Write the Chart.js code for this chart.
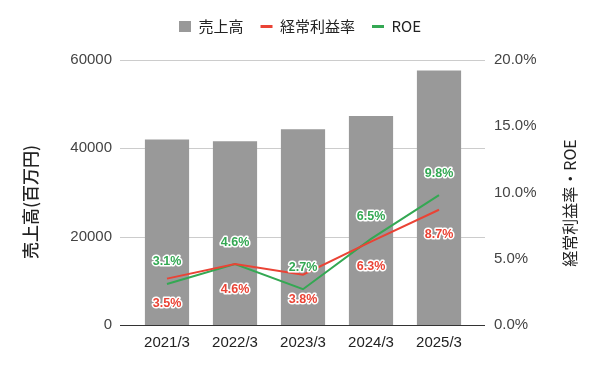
<!DOCTYPE html>
<html lang="ja">
<head>
  <meta charset="UTF-8" />
  <title>売上高・経常利益率・ROE</title>
  <script src="https://cdn.jsdelivr.net/npm/chart.js"></script>
  <style>
    body { margin: 0; background: #fff; }
    .wrap { width: 600px; height: 371px; }
  </style>
</head>
<body>
  <div class="wrap"><canvas id="chart" width="600" height="371"></canvas></div>
  <script>
    const categories = ['2021/3', '2022/3', '2023/3', '2024/3', '2025/3'];
    const sales = [42000, 41600, 44300, 47300, 57600];
    const ordinaryMargin = [3.5, 4.6, 3.8, 6.3, 8.7];
    const roe = [3.1, 4.6, 2.7, 6.5, 9.8];

    const FONT = "'Liberation Sans', Arial, 'Noto Sans CJK JP', sans-serif";
    const CJK = "'Noto Sans CJK JP', 'Liberation Sans', sans-serif";

    // grid lines reach a bit past the plot on both sides
    const gridPlugin = {
      id: 'grid',
      beforeDatasetsDraw(chart) {
        const { ctx, chartArea } = chart;
        const y = chart.scales.y;
        ctx.save();
        y.ticks.forEach(t => {
          const py = Math.round(y.getPixelForValue(t.value)) + 0.5;
          ctx.strokeStyle = t.value === 0 ? '#333' : '#ccc';
          ctx.lineWidth = 1;
          ctx.beginPath();
          ctx.moveTo(chartArea.left - 13, py);
          ctx.lineTo(chartArea.right + 12, py);
          ctx.stroke();
        });
        ctx.restore();
      }
    };

    function vTitle(ctx, text, x, y, font) {
      ctx.save();
      ctx.font = font;
      ctx.fillStyle = '#222';
      ctx.textAlign = 'center';
      ctx.textBaseline = 'middle';
      ctx.translate(x, y);
      ctx.rotate(-Math.PI / 2);
      ctx.fillText(text, 0, 0);
      ctx.restore();
    }

    const labelPlugin = {
      id: 'pctLabels',
      afterDatasetsDraw(chart) {
        const { ctx } = chart;
        ctx.save();
        ctx.font = "bold 12.5px " + FONT;
        ctx.textAlign = 'center';
        ctx.textBaseline = 'middle';
        ctx.lineJoin = 'round';
        chart.data.datasets.forEach((ds, i) => {
          if (ds.type !== 'line') return;
          const meta = chart.getDatasetMeta(i);
          const off = ds.label === 'ROE' ? -22 : 25;
          meta.data.forEach((pt, j) => {
            const txt = ds.data[j].toFixed(1) + '%';
            ctx.strokeStyle = '#fff';
            ctx.lineWidth = 3;
            ctx.strokeText(txt, pt.x, pt.y + off);
            ctx.fillStyle = ds.borderColor;
            ctx.fillText(txt, pt.x, pt.y + off);
          });
        });
        ctx.restore();
        // axis titles, both read bottom to top
        vTitle(ctx, '売上高(百万円)', 31, 202, "500 17px " + CJK);
        vTitle(ctx, '経常利益率・ROE', 570, 203, "16px " + CJK);
      }
    };

    const legendSpace = {
      id: 'legendSpace',
      beforeLayout(chart) {
        if (chart.legend && !chart.legend._patched) {
          const fit = chart.legend.fit;
          chart.legend.fit = function () {
            fit.call(this);
            this.height += 16;
          };
          chart.legend._patched = true;
        }
      }
    };

    new Chart(document.getElementById('chart'), {
      data: {
        labels: categories,
        datasets: [
          {
            type: 'bar',
            label: '売上高',
            data: sales,
            backgroundColor: '#999999',
            yAxisID: 'y',
            order: 2,
            barPercentage: 0.65,
            categoryPercentage: 1,
            pointStyle: 'rect'
          },
          {
            type: 'line',
            label: '経常利益率',
            data: ordinaryMargin,
            borderColor: '#ea4335',
            backgroundColor: '#ea4335',
            borderWidth: 2,
            pointRadius: 0,
            tension: 0,
            yAxisID: 'y1',
            order: 1,
            pointStyle: 'line'
          },
          {
            type: 'line',
            label: 'ROE',
            data: roe,
            borderColor: '#34a853',
            backgroundColor: '#34a853',
            borderWidth: 2,
            pointRadius: 0,
            tension: 0,
            yAxisID: 'y1',
            order: 1,
            pointStyle: 'line'
          }
        ]
      },
      options: {
        responsive: false,
        animation: false,
        layout: { padding: { top: 2 } },
        plugins: {
          legend: {
            position: 'top',
            labels: {
              usePointStyle: true,
              pointStyleWidth: 12,
              boxHeight: 11,
              padding: 17,
              color: '#222',
              font: { size: 15, family: CJK },
              sort: (a, b) => a.datasetIndex - b.datasetIndex,
              generateLabels: chart => {
                const items = Chart.defaults.plugins.legend.labels.generateLabels(chart);
                items.forEach(it => { if (it.pointStyle === 'line') it.lineWidth = 3; });
                return items;
              }
            }
          },
          tooltip: { enabled: false }
        },
        scales: {
          x: {
            grid: { display: false, drawTicks: false },
            border: { display: false },
            ticks: { color: '#222', padding: 9, font: { size: 15, family: FONT } },
            afterFit: s => { s.height = 46; }
          },
          y: {
            position: 'left',
            min: 0,
            max: 60000,
            grid: { display: false, drawTicks: false },
            border: { display: false },
            ticks: {
              stepSize: 20000,
              color: '#444',
              padding: 21,
              font: { size: 15, family: FONT },
              callback: v => String(v)
            },
            afterFit: s => { s.width = 133; }
          },
          y1: {
            position: 'right',
            min: 0,
            max: 20,
            grid: { display: false, drawTicks: false },
            border: { display: false },
            ticks: {
              stepSize: 5,
              color: '#444',
              padding: 21,
              font: { size: 15, family: FONT },
              callback: v => v.toFixed(1) + '%'
            },
            afterFit: s => { s.width = 127; }
          }
        }
      },
      plugins: [legendSpace, gridPlugin, labelPlugin]
    });
  </script>
</body>
</html>
